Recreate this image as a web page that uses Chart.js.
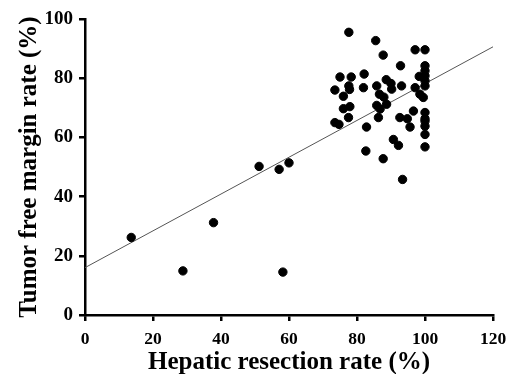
<!DOCTYPE html>
<html>
<head>
<meta charset="utf-8">
<script src="https://cdn.jsdelivr.net/npm/chart.js@4"></script>
<style>
  html, body { margin: 0; padding: 0; background: #fff; }
  #wrap { width: 515px; height: 374px; }
</style>
</head>
<body>
<div id="wrap"><canvas id="scatterChart" width="515" height="374"></canvas></div>
<script>
// hepatic resection rate (%) per patient
const resectionRate = [
    13.6, 28.8, 37.8, 51.2, 57.1, 60.0, 58.2,
    77.6, 85.5, 87.7, 97.1, 100, 92.8, 100, 100, 100, 98.3,
    88.6, 90.0, 90.2, 75.0, 78.3, 82.1, 73.5, 77.6, 77.8, 81.9,
    85.8, 86.6, 87.9, 76.0, 77.9, 76.0, 85.8, 86.8, 73.5, 74.7,
    77.5, 82.8, 86.3, 93.1, 97.1, 100, 100, 98.5, 99.5, 88.7,
    96.6, 92.6, 94.8, 100, 100, 100, 95.6, 100, 100, 82.6,
    87.7, 90.7, 92.2, 100, 93.4
];
// tumor free margin rate (%) per patient
const marginRate = [
    26.2, 14.9, 31.2, 50.2, 49.2, 51.4, 14.5,
    95.5, 92.7, 87.8, 89.6, 89.6, 84.2, 84.2, 82.5, 80.8, 80.6,
    79.5, 78.2, 76.3, 80.4, 80.4, 81.4, 76.0, 77.4, 76.2, 76.8,
    77.4, 74.6, 73.6, 73.9, 70.4, 69.7, 70.8, 69.6, 65.0, 64.4,
    66.7, 63.5, 66.7, 77.4, 76.8, 79.1, 77.4, 74.6, 73.5, 71.2,
    68.9, 66.7, 66.3, 68.4, 66.3, 65.5, 63.5, 63.8, 61.0, 55.4,
    52.8, 59.3, 57.3, 56.8, 45.8
];
// regression line end points
const fitX = [0, 120];
const fitY = [16.0, 90.6];

const xTicks = [0, 20, 40, 60, 80, 100, 120];
const yTicks = [0, 20, 40, 60, 80, 100];

const serif = "'Liberation Serif', 'Times New Roman', serif";

const points = resectionRate.map((x, i) => ({ x: x, y: marginRate[i] }));
const fitLine = fitX.map((x, i) => ({ x: x, y: fitY[i] }));

const axisCommon = {
    border: { display: true, color: '#000', width: 2.5 },
    grid: { drawOnChartArea: false, drawTicks: true, tickLength: 6, color: '#000', lineWidth: 2.5 },
};

new Chart(document.getElementById('scatterChart'), {
    type: 'scatter',
    data: {
        datasets: [
            {
                data: fitLine,
                showLine: true,
                borderColor: '#555',
                borderWidth: 1,
                pointRadius: 0,
                order: 2
            },
            {
                data: points,
                backgroundColor: '#000',
                borderColor: '#000',
                pointRadius: 4.2,
                order: 1
            }
        ]
    },
    options: {
        responsive: false,
        animation: false,
        layout: { padding: { top: 19, right: 22, left: 0, bottom: 0 } },
        plugins: { legend: { display: false }, tooltip: { enabled: false } },
        scales: {
            x: {
                ...axisCommon,
                type: 'linear',
                min: 0, max: 120,
                afterBuildTicks: (axis) => { axis.ticks = xTicks.map(v => ({ value: v })); },
                afterFit: (axis) => { axis.height = 59; },
                ticks: { color: '#000', padding: 8, maxRotation: 0, font: { family: serif, size: 17.5, weight: 'bold' } },
                title: {
                    display: true,
                    text: 'Hepatic resection rate (%)',
                    color: '#000',
                    padding: { top: 0, bottom: 0 },
                    font: { family: serif, size: 25, weight: 'bold', lineHeight: 0.9 }
                }
            },
            y: {
                ...axisCommon,
                type: 'linear',
                min: 0, max: 100,
                afterBuildTicks: (axis) => { axis.ticks = yTicks.map(v => ({ value: v })); },
                afterFit: (axis) => { axis.width = 85; },
                ticks: { color: '#000', padding: 6, font: { family: serif, size: 19, weight: 'bold' } },
                title: {
                    display: true,
                    text: 'Tumor free margin rate (%)',
                    color: '#000',
                    padding: { top: 0, bottom: 0 },
                    font: { family: serif, size: 25, weight: 'bold', lineHeight: 2.4 }
                }
            }
        }
    }
});
</script>
</body>
</html>
